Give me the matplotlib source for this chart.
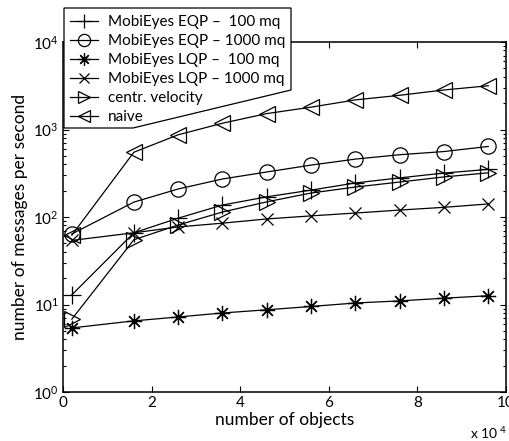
import matplotlib
matplotlib.use("Agg")
import matplotlib.pyplot as plt
from matplotlib.patches import Polygon
import numpy as np

plt.rcParams['font.family'] = ['Lato', 'DejaVu Sans']
plt.rcParams['mathtext.fontset'] = 'custom'
plt.rcParams['mathtext.rm'] = 'Lato'
plt.rcParams['mathtext.it'] = 'Lato'

# x in units of 10^4 objects
x = [0.2, 1.6, 2.6, 3.6, 4.6, 5.6, 6.6, 7.6, 8.6, 9.6]
eqp_100 = [12.9, 66, 97, 137, 170, 203, 245, 280, 318, 350]
eqp_1000 = [64, 148, 209, 272, 327, 392, 459, 515, 560, 640]
lqp_100 = [5.4, 6.5, 7.2, 8.0, 8.7, 9.5, 10.4, 11.0, 11.8, 12.6]
lqp_1000 = [54, 66, 77, 85, 95, 103, 111, 120, 129, 141]
centr_vel = [6.8, 55, 81, 114, 149, 188, 220, 251, 287, 320]
naive = [62, 550, 870, 1180, 1520, 1800, 2180, 2460, 2830, 3160]

labels = ["MobiEyes EQP \u2013  100 mq", "MobiEyes EQP \u2013 1000 mq",
          "MobiEyes LQP \u2013  100 mq", "MobiEyes LQP \u2013 1000 mq",
          "centr. velocity", "naive"]
series = [eqp_100, eqp_1000, lqp_100, lqp_1000, centr_vel, naive]
markers = ['+', 'o', (8, 2, 0), 'x', '>', '<']
msizes = [13, 11, 11, 9, 11, 11]

W, H = 509, 441
fig = plt.figure(figsize=(W / 100, H / 100), dpi=100)
ax = fig.add_axes([63 / W, 1 - 392 / H, (506 - 63) / W, (392 - 42) / H])

handles = []
for ys, m, ms, lab in zip(series, markers, msizes, labels):
    h, = ax.plot(x, ys, color='black', lw=0.9, marker=m, markersize=ms,
                 markerfacecolor='none', markeredgecolor='black',
                 markeredgewidth=0.9, label=lab)
    handles.append(h)

ax.set_yscale('log')
ax.set_ylim(1, 1e4)
ax.set_xlim(0, 10)
ax.set_xticks([0, 2, 4, 6, 8, 10])
ax.set_xticklabels(['0', '2', '4', '6', '8', '10'])
ax.tick_params(which='both', direction='in', top=True, right=True,
               labelsize=11, width=0.8)
ax.tick_params(which='major', length=4, pad=3)
ax.tick_params(which='minor', length=2.5)
for s in ax.spines.values():
    s.set_linewidth(1.1)

ax.set_xlabel('number of objects', fontsize=12.5, labelpad=1)
ax.set_ylabel('number of messages per second', fontsize=12.5, labelpad=4)
fig.text(470 / W, 1 - 433 / H, 'x 10$^{\\ 4}$', fontsize=10, ha='left', va='center')

# custom legend frame (slanted lower right edge)
pts_px = [(64, 8), (291, 8), (291, 90), (133, 128), (64, 128)]
pts = [(px / W, 1 - py / H) for px, py in pts_px]
poly = Polygon(pts, closed=True, facecolor='white', edgecolor='black',
               lw=0.9, transform=fig.transFigure, clip_on=False, zorder=4)
ax.add_patch(poly)

leg = ax.legend(handles=handles, loc='upper left',
                bbox_to_anchor=(70 / W, 1 - 15 / H),
                bbox_transform=fig.transFigure, frameon=False,
                fontsize=11, borderaxespad=0, handlelength=1.85,
                handletextpad=0.65, labelspacing=0.33, borderpad=0,
                markerscale=0.8)
leg.set_zorder(5)

fig.savefig('out.png', dpi=100)
